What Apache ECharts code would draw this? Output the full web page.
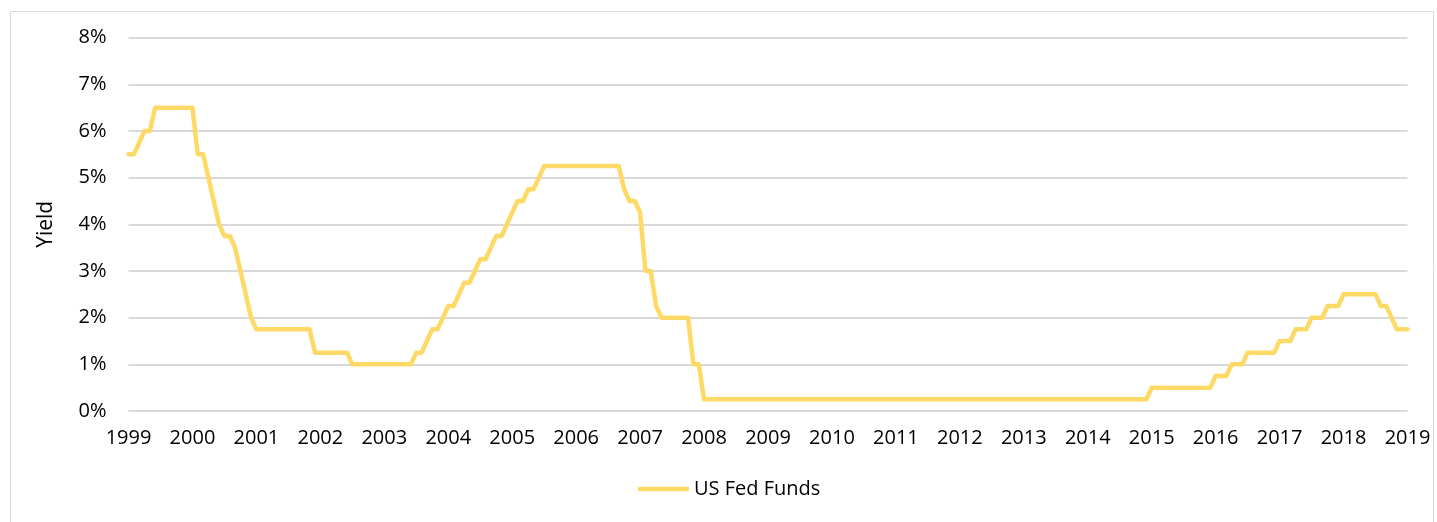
<!DOCTYPE html>
<html>
<head>
<meta charset="utf-8">
<script src="https://cdn.jsdelivr.net/npm/echarts@6/dist/echarts.min.js"></script>
<style>
html,body{margin:0;padding:0;background:#fff;}
#chart{width:1437px;height:522px;}
</style>
</head>
<body>
<div id="chart"></div>
<script>
// Year tick labels (one every 12 monthly points)
const yearLabels = ['1999','2000','2001','2002','2003','2004','2005','2006','2007','2008','2009',
  '2010','2011','2012','2013','2014','2015','2016','2017','2018','2019'];

// Monthly US Fed Funds yield (%), 241 points
const fedFunds = [
  // 1999 label year
  5.5, 5.5, 5.75, 6.0, 6.0, 6.5, 6.5, 6.5, 6.5, 6.5, 6.5, 6.5,
  // 2000
  6.5, 5.5, 5.5, 5.0, 4.5, 4.0, 3.75, 3.75, 3.5, 3.0, 2.5, 2.0,
  // 2001
  1.75, 1.75, 1.75, 1.75, 1.75, 1.75, 1.75, 1.75, 1.75, 1.75, 1.75, 1.25,
  // 2002
  1.25, 1.25, 1.25, 1.25, 1.25, 1.25, 1.0, 1.0, 1.0, 1.0, 1.0, 1.0,
  // 2003
  1.0, 1.0, 1.0, 1.0, 1.0, 1.0, 1.25, 1.25, 1.5, 1.75, 1.75, 2.0,
  // 2004
  2.25, 2.25, 2.5, 2.75, 2.75, 3.0, 3.25, 3.25, 3.5, 3.75, 3.75, 4.0,
  // 2005
  4.25, 4.5, 4.5, 4.75, 4.75, 5.0, 5.25, 5.25, 5.25, 5.25, 5.25, 5.25,
  // 2006
  5.25, 5.25, 5.25, 5.25, 5.25, 5.25, 5.25, 5.25, 5.25, 4.75, 4.5, 4.5,
  // 2007
  4.25, 3.0, 3.0, 2.25, 2.0, 2.0, 2.0, 2.0, 2.0, 2.0, 1.0, 1.0,
  // 2008
  0.25, 0.25, 0.25, 0.25, 0.25, 0.25, 0.25, 0.25, 0.25, 0.25, 0.25, 0.25,
  // 2009
  0.25, 0.25, 0.25, 0.25, 0.25, 0.25, 0.25, 0.25, 0.25, 0.25, 0.25, 0.25,
  // 2010
  0.25, 0.25, 0.25, 0.25, 0.25, 0.25, 0.25, 0.25, 0.25, 0.25, 0.25, 0.25,
  // 2011
  0.25, 0.25, 0.25, 0.25, 0.25, 0.25, 0.25, 0.25, 0.25, 0.25, 0.25, 0.25,
  // 2012
  0.25, 0.25, 0.25, 0.25, 0.25, 0.25, 0.25, 0.25, 0.25, 0.25, 0.25, 0.25,
  // 2013
  0.25, 0.25, 0.25, 0.25, 0.25, 0.25, 0.25, 0.25, 0.25, 0.25, 0.25, 0.25,
  // 2014
  0.25, 0.25, 0.25, 0.25, 0.25, 0.25, 0.25, 0.25, 0.25, 0.25, 0.25, 0.25,
  // 2015
  0.5, 0.5, 0.5, 0.5, 0.5, 0.5, 0.5, 0.5, 0.5, 0.5, 0.5, 0.5,
  // 2016
  0.75, 0.75, 0.75, 1.0, 1.0, 1.0, 1.25, 1.25, 1.25, 1.25, 1.25, 1.25,
  // 2017
  1.5, 1.5, 1.5, 1.75, 1.75, 1.75, 2.0, 2.0, 2.0, 2.25, 2.25, 2.25,
  // 2018
  2.5, 2.5, 2.5, 2.5, 2.5, 2.5, 2.5, 2.25, 2.25, 2.0, 1.75, 1.75,
  // 2019
  1.75
];

const seriesName = 'US Fed Funds';
const yTicks = [0, 1, 2, 3, 4, 5, 6, 7, 8];

// Month categories built from the year labels
const categories = fedFunds.map((v, i) => yearLabels[Math.floor(i / 12)] + '-' + String(i % 12 + 1).padStart(2, '0'));

const FONT = '"Open Sans", Lato, sans-serif';
const chart = echarts.init(document.getElementById('chart'), null, {renderer: 'canvas'});
chart.setOption({
  backgroundColor: '#fff',
  animation: false,
  graphic: [{
    type: 'rect',
    shape: {x: 10.5, y: 11.5, width: 1423, height: 530},
    style: {fill: 'none', stroke: '#d9d9d9', lineWidth: 1},
    silent: true, z: -1
  }],
  grid: {left: 128.5, right: 29.5, top: 37.7, bottom: 111, containLabel: false},
  legend: {
    data: [{name: seriesName, icon: 'roundRect'}],
    bottom: 18,
    left: 633,
    itemWidth: 51,
    itemHeight: 4.5,
    itemGap: 10,
    textStyle: {fontFamily: FONT, fontSize: 20, color: '#000', padding: [0, 0, 0, 0]}
  },
  xAxis: {
    type: 'category',
    data: categories,
    boundaryGap: false,
    axisLine: {show: false},
    axisTick: {show: false},
    splitLine: {show: false},
    axisLabel: {
      interval: 11,
      margin: 17,
      fontFamily: FONT, fontSize: 20, color: '#000',
      formatter: v => v.slice(0, 4)
    }
  },
  yAxis: {
    type: 'value',
    min: yTicks[0], max: yTicks[yTicks.length - 1], interval: 1,
    name: 'Yield',
    nameLocation: 'middle',
    nameGap: 72,
    nameRotate: 90,
    nameTextStyle: {fontFamily: FONT, fontSize: 21, color: '#000'},
    axisLine: {show: false},
    axisTick: {show: false},
    axisLabel: {margin: 22, fontFamily: FONT, fontSize: 20, color: '#000', formatter: '{value}%'},
    splitLine: {lineStyle: {color: '#d9d9d9', width: 2}}
  },
  series: [{
    name: seriesName,
    type: 'line',
    data: fedFunds,
    symbol: 'none',
    showSymbol: false,
    lineStyle: {color: '#FFD966', width: 4.5, join: 'round', cap: 'round'},
    itemStyle: {color: '#FFD966'}
  }]
});
</script>
</body>
</html>
